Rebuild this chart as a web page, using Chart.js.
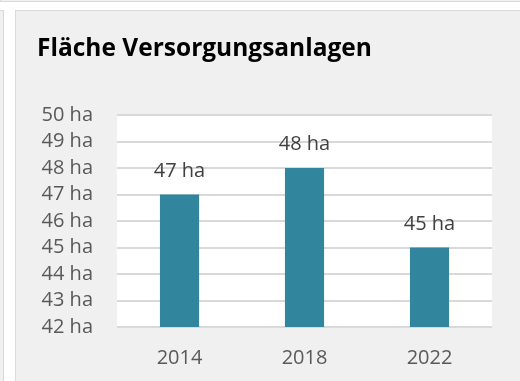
<!DOCTYPE html>
<html>
<head>
<meta charset="utf-8">
<script src="https://cdn.jsdelivr.net/npm/chart.js@4/dist/chart.umd.min.js"></script>
<style>
  html, body { margin: 0; padding: 0; background: #ffffff; overflow: hidden; }
  body { width: 520px; height: 381px; position: relative; }
  .tile { position: absolute; background: #f0f0f0; border: 1px solid #d9d9d9; }
  #wrap { position: absolute; left: 0; top: 0; width: 520px; height: 381px; }
</style>
</head>
<body>
<!-- neighbouring dashboard tiles -->
<div class="tile" style="left:0; top:-30px; width:519px; height:30px; border-right:none;"></div>
<div class="tile" style="left:-20px; top:10px; width:22px; height:400px;"></div>
<!-- this tile -->
<div class="tile" style="left:15px; top:10px; width:505px; height:380px; border-right:none; border-bottom:none;"></div>
<div id="wrap"><canvas id="chart" width="520" height="381"></canvas></div>

<script>
// Fläche Versorgungsanlagen, in Hektar
const years = ['2014', '2018', '2022'];
const areaHa = [47, 48, 45];
const yMin = 42;
const yMax = 50;

const FONT = "'Open Sans', sans-serif";

// white plot background behind the bars
const plotBackground = {
    id: 'plot_background',
    beforeDraw: (chart) => {
        const { ctx, chartArea } = chart;
        ctx.save();
        ctx.fillStyle = '#ffffff';
        ctx.fillRect(chartArea.left, chartArea.top, chartArea.right - chartArea.left, chartArea.bottom - chartArea.top);
        ctx.restore();
    }
};

// value labels above each bar
const valueLabels = {
    id: 'value_labels',
    afterDatasetsDraw: (chart) => {
        const ctx = chart.ctx;
        const meta = chart.getDatasetMeta(0);
        ctx.save();
        ctx.font = '20px ' + FONT;
        ctx.fillStyle = '#404040';
        ctx.textAlign = 'center';
        ctx.textBaseline = 'alphabetic';
        meta.data.forEach((bar, i) => {
            ctx.fillText(chart.data.datasets[0].data[i] + ' ha', bar.x, bar.y - 18);
        });
        ctx.restore();
    }
};

const ctx = document.getElementById('chart').getContext('2d');
const myChart = new Chart(ctx, {
    type: 'bar',
    data: {
        labels: years,
        datasets: [{
            data: areaHa,
            backgroundColor: '#31859c',
            borderWidth: 0,
            categoryPercentage: 1,
            barPercentage: 0.313,
        }]
    },
    options: {
        responsive: false,
        animation: false,
        layout: { padding: { left: 37, right: 28, top: 0, bottom: 0 } },
        plugins: {
            legend: { display: false },
            tooltip: { enabled: false },
            title: {
                display: true,
                text: 'Fläche Versorgungsanlagen',
                align: 'start',
                color: '#000000',
                font: { family: FONT, size: 24.5, weight: 'bold' },
                padding: { top: 34, bottom: 51.6 },
            },
        },
        scales: {
            x: {
                grid: { display: false, drawTicks: false },
                border: { display: false },
                ticks: { color: '#595959', font: { family: FONT, size: 20 }, padding: 19 },
                afterFit: (scale) => { scale.height = 54; },
            },
            y: {
                min: yMin,
                max: yMax,
                grid: { color: '#d9d9d9', lineWidth: 2, drawTicks: false },
                border: { display: false },
                ticks: {
                    stepSize: 1,
                    autoSkip: false,
                    color: '#595959',
                    font: { family: FONT, size: 20 },
                    padding: 24,
                    callback: (v) => v + ' ha',
                },
                afterFit: (scale) => { scale.width = 80; },
            }
        }
    },
    plugins: [plotBackground, valueLabels],
});
</script>
</body>
</html>
